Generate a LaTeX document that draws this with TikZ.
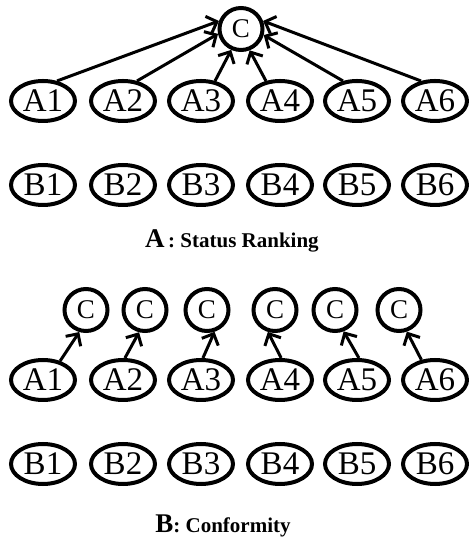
\documentclass[tikz,border=0pt]{standalone}
\usepackage{fontspec}
\setmainfont{Liberation Serif}
\usetikzlibrary{shapes.geometric,arrows.meta}

\begin{document}
\begin{tikzpicture}[x=1pt,y=1pt,
  agent/.style={draw,ellipse,line width=4pt,minimum width=64pt,minimum height=40pt,
    inner sep=-8pt,text height=22pt,text depth=0pt,font=\fontsize{33}{33}\selectfont},
  crowd/.style={agent,minimum width=43pt,minimum height=42pt,text height=18pt,
    font=\fontsize{27}{27}\selectfont},
  link/.style={line width=3pt,-{Straight Barb[length=9pt,width=18pt]}}]
  \useasboundingbox (0,0) rectangle (468,540);

  % helper to place the A row
  \newcommand{\arow}{%
    \node[agent] (a1) at (43,439) {A1};
    \node[agent] (a2) at (123,439) {A2};
    \node[agent] (a3) at (201,439) {A3};
    \node[agent] (a4) at (280,439) {A4};
    \node[agent] (a5) at (357,439) {A5};
    \node[agent] (a6) at (435,439) {A6};
  }
  % helper to place the B row
  \newcommand{\brow}{%
    \node[agent] (b1) at (43,355) {B1};
    \node[agent] (b2) at (123,355) {B2};
    \node[agent] (b3) at (201,355) {B3};
    \node[agent] (b4) at (280,355) {B4};
    \node[agent] (b5) at (357,355) {B5};
    \node[agent] (b6) at (435,355) {B6};
  }

  %==================== status ranking ====================
  \begin{scope}
    \arow
    \brow
    \node[crowd] (c) at (241,511) {C};
    % every agent points at one common C
    \draw[link] (a1.55) -- (c.160);
    \draw[link] (a2.55) -- (c.192);
    \draw[link] (a3.55) -- (c.245);
    \draw[link] (a4.125) -- (c.292);
    \draw[link] (a5.125) -- (c.345);
    \draw[link] (a6.125) -- (c.20);
    \node (capA) at (232,299) {\fontsize{27}{27}\selectfont\bfseries A\fontsize{21}{21}\selectfont\,: Status Ranking};
  \end{scope}

  %==================== conformity ====================
  \begin{scope}[yshift=-279pt]
    \arow
    \brow
    \node[crowd] (c1) at (86,509) {C};
    \node[crowd] (c2) at (145,509) {C};
    \node[crowd] (c3) at (207,509) {C};
    \node[crowd] (c4) at (275,509) {C};
    \node[crowd] (c5) at (335,509) {C};
    \node[crowd] (c6) at (399,509) {C};
    % each agent points at its own C
    \draw[link] (a1.48) -- (c1.253);
    \draw[link] (a2.85) -- (c2.255);
    \draw[link] (a3.85) -- (c3.289);
    \draw[link] (a4.87) -- (c4.252);
    \draw[link] (a5.85) -- (c5.292);
    \draw[link] (a6.124) -- (c6.290);
    \node (capB) at (223,293) {\fontsize{27}{27}\selectfont\bfseries B\fontsize{21}{21}\selectfont: Conformity};
  \end{scope}

\end{tikzpicture}
\end{document}
